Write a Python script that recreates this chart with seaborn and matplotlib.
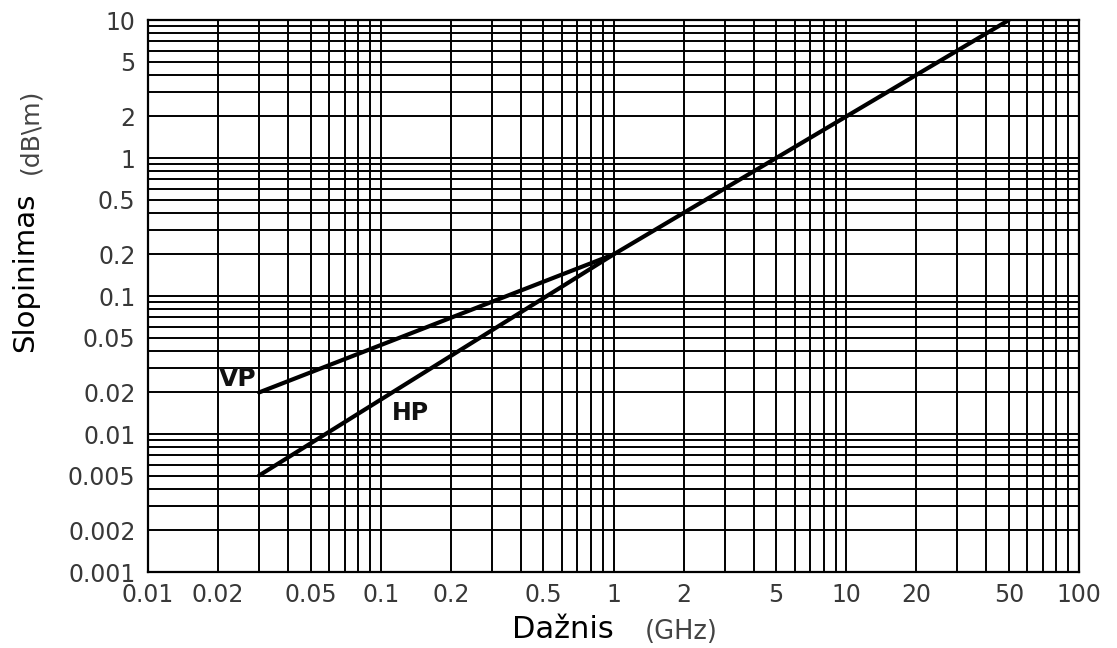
import matplotlib
matplotlib.use("Agg")
import matplotlib.pyplot as plt
import seaborn as sns
import pandas as pd
import numpy as np
from matplotlib.ticker import LogLocator, NullFormatter

# Data
freq_vp = [0.03, 1, 50]
att_vp = [0.02, 0.2, 10]
freq_hp = [0.03, 1]
att_hp = [0.005, 0.2]
x_ticks = [0.01, 0.02, 0.05, 0.1, 0.2, 0.5, 1, 2, 5, 10, 20, 50, 100]
x_tick_labels = ["0.01", "0.02", "0.05", "0.1", "0.2", "0.5", "1", "2", "5", "10", "20", "50", "100"]
y_ticks = [0.001, 0.002, 0.005, 0.01, 0.02, 0.05, 0.1, 0.2, 0.5, 1, 2, 5, 10]
y_tick_labels = ["0.001", "0.002", "0.005", "0.01", "0.02", "0.05", "0.1", "0.2", "0.5", "1", "2", "5", "10"]

sns.set_style("white")
plt.rcParams['font.family'] = ['DejaVu Sans']

df = pd.concat([
    pd.DataFrame({"f": freq_vp, "a": att_vp, "s": "VP"}),
    pd.DataFrame({"f": freq_hp, "a": att_hp, "s": "HP"}),
])

fig = plt.figure(figsize=(11.17, 6.48), dpi=100)
ax = fig.add_axes([148/1117, 1 - 572/648, (1079-148)/1117, (572-20)/648])

ax.set_xscale("log")
ax.set_yscale("log")
ax.set_xlim(0.01, 100)
ax.set_ylim(0.001, 10)

ax.xaxis.set_minor_locator(LogLocator(base=10, subs=np.arange(2, 10)))
ax.yaxis.set_minor_locator(LogLocator(base=10, subs=np.arange(2, 10)))
ax.xaxis.set_minor_formatter(NullFormatter())
ax.yaxis.set_minor_formatter(NullFormatter())
ax.grid(True, which="both", color="black", linewidth=1.4)
ax.set_axisbelow(True)

sns.lineplot(data=df, x="f", y="a", units="s", estimator=None, color="black",
             linewidth=3, ax=ax, legend=False, sort=False)

ax.set_xticks(x_ticks)
ax.set_xticklabels(x_tick_labels)
ax.set_yticks(y_ticks)
ax.set_yticklabels(y_tick_labels)
ax.tick_params(which="both", length=0, labelsize=17, colors="#383838")
ax.tick_params(axis="x", pad=8)
ax.tick_params(axis="y", pad=9)
ax.set_xlabel("")
ax.set_ylabel("")
for s in ax.spines.values():
    s.set_color("black")
    s.set_linewidth(1.6)

ax.text(0.02424, 0.0250, "VP", ha="center", va="center", fontsize=18, fontweight="bold", color="#111111")
ax.text(0.1335, 0.0142, "HP", ha="center", va="center", fontsize=17, fontweight="bold", color="#111111")

# axis labels
fig.text(512/1117, 1 - 638/648, "Dažnis", ha="left", va="baseline", fontsize=22, color="black")
fig.text(645/1117, 1 - 632/648, "(GHz)", ha="left", va="center", fontsize=18.5, color="#444444")
fig.text(25/1117, 1 - 272/648, "Slopinimas", ha="center", va="center", rotation=90, fontsize=21, color="black")
fig.text(30/1117, 1 - 131/648, "(dB\\m)", ha="center", va="center", rotation=90, fontsize=18, color="#444444")

fig.savefig("out.png", dpi=100)
